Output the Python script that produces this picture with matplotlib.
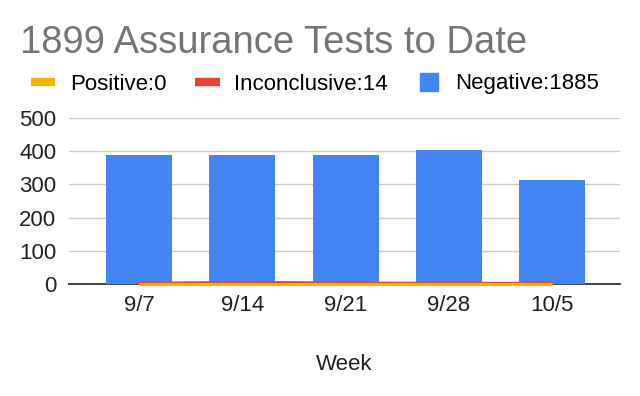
import matplotlib
matplotlib.use("Agg")
import matplotlib.pyplot as plt
from matplotlib.lines import Line2D
import numpy as np

plt.rcParams['font.family'] = ['Liberation Sans', 'DejaVu Sans']

# weekly counts
weeks = ['9/7', '9/14', '9/21', '9/28', '10/5']
negative = [390, 389, 389, 404, 313]
inconclusive = [2, 5, 3, 2, 2]
positive = [0, 0, 0, 0, 0]

title = '1899 Assurance Tests to Date'
legend_labels = ['Positive:0', 'Inconclusive:14', 'Negative:1885']

blue = '#4285F4'
red = '#EA4335'
yellow = '#F4B400'

fig = plt.figure(figsize=(6.4, 3.96), dpi=100)
ax = fig.add_axes([69 / 640, 1 - 284 / 396, 551 / 640, 166 / 396])

x = np.arange(len(weeks))
ax.bar(x, negative, width=0.64, color=blue, zorder=2)
ax.plot(x, inconclusive, color=red, linewidth=2.2, zorder=3, clip_on=False)
ax.plot(x, positive, color=yellow, linewidth=2.2, zorder=4, clip_on=False,
        solid_capstyle='butt')

ax.set_xlim(-0.68, 4.66)
ax.set_ylim(0, 500)
ax.set_yticks([0, 100, 200, 300, 400, 500])
ax.set_xticks(x)
ax.set_xticklabels(weeks)
ax.tick_params(axis='both', length=0, labelsize=16, colors='#222222')
ax.tick_params(axis='x', pad=8)
ax.tick_params(axis='y', pad=9)
ax.grid(True, axis='y', color='#cccccc', linewidth=1, zorder=0)
ax.set_axisbelow(True)
for side in ['left', 'right', 'top']:
    ax.spines[side].set_visible(False)
ax.spines['bottom'].set_color('#333333')
ax.spines['bottom'].set_linewidth(1.3)
ax.spines['bottom'].set_zorder(1)

ax.set_xlabel('Week', fontsize=16, color='#222222', labelpad=27)

fig.text(20 / 640, 1 - 53 / 396, title, fontsize=27.5, color='#757575',
         va='baseline', ha='left')

handles = [
    Line2D([0], [0], color=yellow, linewidth=6, solid_capstyle='butt'),
    Line2D([0], [0], color=red, linewidth=6, solid_capstyle='butt'),
    Line2D([0], [0], color=blue, linestyle='none', marker='s', markersize=13),
]
fig.legend(handles, legend_labels, loc='center left', ncol=3,
           bbox_to_anchor=(31 / 640, 1 - 84 / 396), frameon=False,
           fontsize=16, handlelength=1.1, handletextpad=0.65,
           columnspacing=1.3, borderpad=0, borderaxespad=0)

plt.savefig('out.png', dpi=100)
